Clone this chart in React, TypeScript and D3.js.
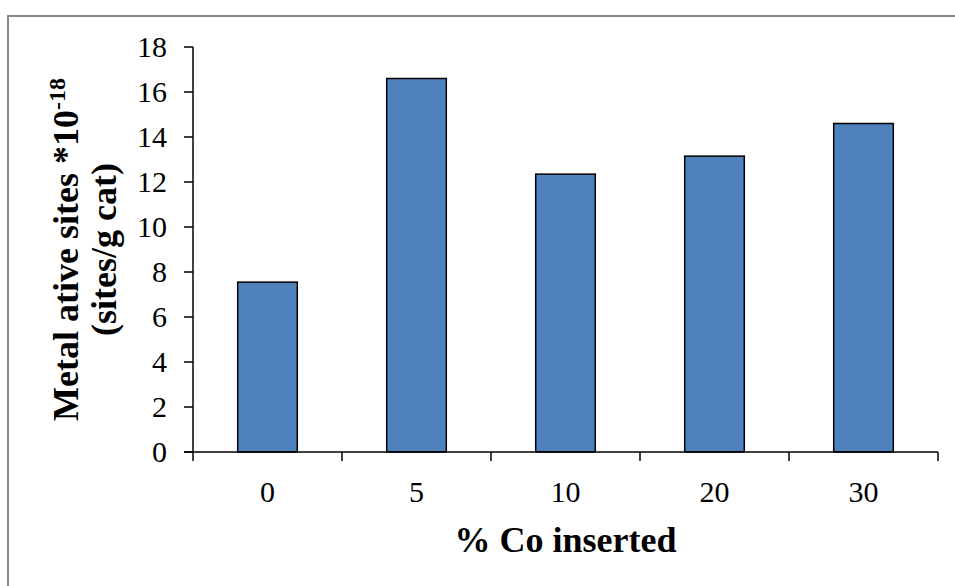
import React from "react";
import * as d3 from "d3";

const categories = ["0", "5", "10", "20", "30"];
const values = [7.55, 16.6, 12.35, 13.15, 14.6];
const yTicks = [0, 2, 4, 6, 8, 10, 12, 14, 16, 18];

const W = 955;
const H = 586;
const plot = { left: 193, right: 938, top: 47, bottom: 452 };

export default function App() {
  const x = d3
    .scaleBand<string>()
    .domain(categories)
    .range([plot.left, plot.right])
    .paddingInner(0)
    .paddingOuter(0);
  const y = d3.scaleLinear().domain([0, 18]).range([plot.bottom, plot.top]);
  const bw = x.bandwidth();
  const barW = bw * 0.4;
  const boundaries = [...categories.map((c) => x(c) as number), plot.right];
  const font = "'Liberation Serif', 'Times New Roman', serif";
  const midY = (plot.top + plot.bottom) / 2;

  return (
    <div style={{ position: "absolute", left: 0, top: 0 }}>
      <svg width={W} height={H} style={{ display: "block", background: "#fff" }} fontFamily={font}>
        {/* chart area frame */}
        <rect x={8} y={16} width={1000} height={700} fill="none" stroke="#8a8a8a" strokeWidth={2} />

        {/* bars */}
        {categories.map((c, i) => (
          <rect
            key={c}
            x={(x(c) as number) + (bw - barW) / 2}
            y={y(values[i])}
            width={barW}
            height={y(0) - y(values[i])}
            fill="#4F81BD"
            stroke="#000"
            strokeWidth={1.5}
          />
        ))}

        {/* y axis */}
        <line x1={plot.left} x2={plot.left} y1={plot.top} y2={plot.bottom} stroke="#000" strokeWidth={1.5} />
        {yTicks.map((t) => (
          <g key={t}>
            <line x1={plot.left - 9} x2={plot.left} y1={y(t)} y2={y(t)} stroke="#000" strokeWidth={1.5} />
            <text x={167} y={y(t) + 10} textAnchor="end" fontSize={30} fill="#000">
              {t}
            </text>
          </g>
        ))}

        {/* x axis */}
        <line x1={plot.left - 9} x2={plot.right} y1={plot.bottom} y2={plot.bottom} stroke="#000" strokeWidth={1.5} />
        {boundaries.map((b, i) => (
          <line key={i} x1={b} x2={b} y1={plot.bottom} y2={plot.bottom + 9} stroke="#000" strokeWidth={1.5} />
        ))}
        {categories.map((c) => (
          <text key={c} x={(x(c) as number) + bw / 2} y={502} textAnchor="middle" fontSize={30} fill="#000">
            {c}
          </text>
        ))}

        {/* axis titles */}
        <text
          x={(plot.left + plot.right) / 2}
          y={552}
          textAnchor="middle"
          fontSize={36}
          fontWeight="bold"
          fill="#000"
        >
          % Co inserted
        </text>
        <g transform={`translate(78, ${midY}) rotate(-90)`}>
          <text x={0} y={0} textAnchor="middle" fontSize={36} fontWeight="bold" fill="#000">
            Metal ative sites *10
            <tspan fontSize={24} dy={-13}>-18</tspan>
          </text>
        </g>
        <g transform={`translate(116, ${midY}) rotate(-90)`}>
          <text x={0} y={0} textAnchor="middle" fontSize={36} fontWeight="bold" fill="#000">
            (sites/g cat)
          </text>
        </g>
      </svg>
    </div>
  );
}
